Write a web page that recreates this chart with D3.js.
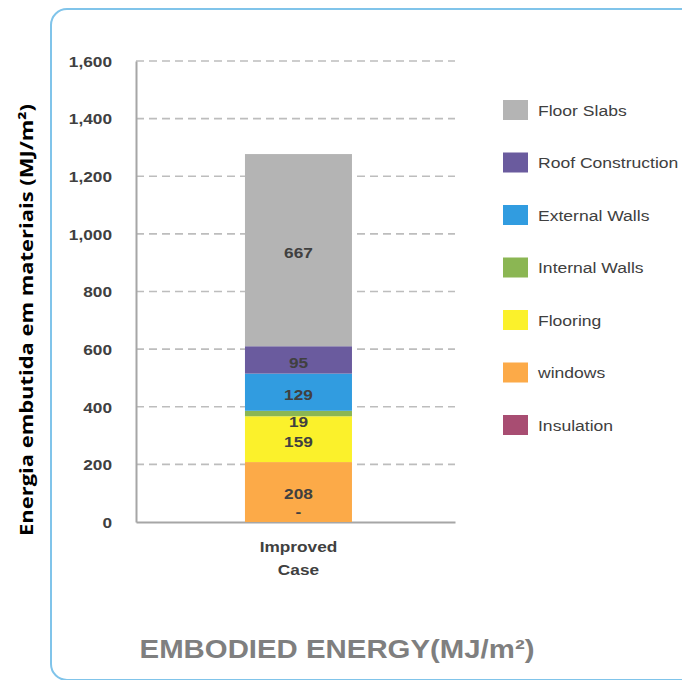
<!DOCTYPE html>
<html><head><meta charset="utf-8">
<script src="https://cdn.jsdelivr.net/npm/d3@7"></script>
<style>body{margin:0;background:#fff}svg{display:block}</style>
</head><body>
<script>
const categories = ["Improved Case"];
const seriesNames = ["Insulation","windows","Flooring","Internal Walls","External Walls","Roof Construction","Floor Slabs"];
const seriesValues = [0, 208, 159, 19, 129, 95, 667];
const valueLabels = ["-", "208", "159", "19", "129", "95", "667"];
const seriesColors = ["#a84d72","#fcaa48","#fbf12b","#8bb653","#319ce0","#6a5b9e","#b4b4b4"];
const legendOrder = ["Floor Slabs","Roof Construction","External Walls","Internal Walls","Flooring","windows","Insulation"];
const yTicks = [0,200,400,600,800,1000,1200,1400,1600];

(function () {
const W = 682, H = 680;
const SX = 1.15;
const FONT = "Arial, 'Liberation Sans', sans-serif";
const svg = d3.select("body").append("svg").attr("width", W).attr("height", H);

function stretchedText(parent, x, y, str, size, opts = {}) {
  return parent.append("text")
    .attr("transform", `translate(${x},${y}) scale(${opts.sx || SX},1)`)
    .attr("text-anchor", opts.anchor || "start")
    .attr("font-family", FONT).attr("font-size", size)
    .attr("font-weight", opts.weight || "normal")
    .attr("fill", opts.fill || "#404040").text(str);
}

// frame
svg.append("rect").attr("x", 51).attr("y", 9).attr("width", 700).attr("height", 671)
  .attr("rx", 16).attr("fill", "none").attr("stroke", "#80c4ea").attr("stroke-width", 2);

const pLeft = 136, pRight = 455, pTop = 61, pBottom = 522;
const y = d3.scaleLinear().domain([0, 1600]).range([pBottom, pTop]);
const x = d3.scaleBand().domain(categories).range([pLeft, pRight])
  .paddingInner(0).paddingOuter(0.34).align(0.523);

// gridlines
svg.append("g").selectAll("line").data(yTicks.filter(t => t > 0)).join("line")
  .attr("x1", pLeft).attr("x2", pRight).attr("y1", d => y(d)).attr("y2", d => y(d))
  .attr("stroke", "#bdbdbd").attr("stroke-width", 1.6).attr("stroke-dasharray", "8,5");

// y axis
const yAxis = d3.axisLeft(y).tickValues(yTicks).tickFormat(d3.format(",")).tickSize(0).tickPadding(0);
const gy = svg.append("g").attr("transform", `translate(${pLeft},0)`).call(yAxis);
gy.select(".domain").attr("stroke", "#a6a6a6").attr("stroke-width", 2);
gy.selectAll("text").attr("x", 0).attr("dy", "0.35em")
  .attr("transform", `translate(-24,0) scale(${SX},1)`)
  .attr("font-family", FONT).attr("font-size", 15).attr("font-weight", "bold").attr("fill", "#404040");

// x axis
const xAxis = d3.axisBottom(x).tickSize(0).tickFormat(() => "");
const gx = svg.append("g").attr("transform", `translate(0,${pBottom})`).call(xAxis);
gx.select(".domain").attr("stroke", "#a6a6a6").attr("stroke-width", 2);

// stacked bars
const row = Object.fromEntries(seriesNames.map((n, i) => [n, seriesValues[i]]));
const stack = d3.stack().keys(seriesNames)([row]);
const bw = 107;
const cx = x(categories[0]) + x.bandwidth() / 2;
stack.forEach((s, i) => {
  const d = s[0];
  svg.append("rect").attr("x", cx - bw / 2).attr("width", bw)
    .attr("y", y(d[1])).attr("height", y(d[0]) - y(d[1])).attr("fill", seriesColors[i]);
});
stack.forEach((s, i) => {
  const d = s[0];
  let ly = (y(d[0]) + y(d[1])) / 2 + 8;
  if (seriesNames[i] === "windows") ly -= 1;
  if (seriesNames[i] === "Insulation") ly = y(d[0]) - 5;
  if (seriesNames[i] === "Internal Walls") ly = y(d[0]) + 11;
  stretchedText(svg, cx, ly, valueLabels[i], 15, {anchor: "middle", weight: "bold"});
});

// category label
categories[0].split(" ").forEach((w, i) => {
  stretchedText(svg, cx, 552 + i * 23, w, 15, {anchor: "middle", weight: "bold"});
});

// legend
const lg = svg.append("g");
legendOrder.forEach((n, i) => {
  const idx = seriesNames.indexOf(n);
  const cy = 110 + i * 52.5;
  lg.append("rect").attr("x", 503).attr("y", cy - 10).attr("width", 25).attr("height", 20).attr("fill", seriesColors[idx]);
  stretchedText(lg, 538, cy + 5.5, n, 15, {sx: 1.17});
});

// title
stretchedText(svg, 337, 658, "EMBODIED ENERGY(MJ/m²)", 26, {anchor: "middle", weight: "bold", fill: "#7f7f7f", sx: 1.13});

// y axis title
svg.append("text").attr("transform", "translate(33,320) rotate(-90) scale(1.22,1)").attr("text-anchor", "middle")
  .attr("font-family", "'Open Sans', sans-serif").attr("font-size", 18)
  .attr("font-weight", "bold").attr("fill", "#000").text("Energia embutida em materiais (MJ/m²)");
})();
</script>
</body></html>
